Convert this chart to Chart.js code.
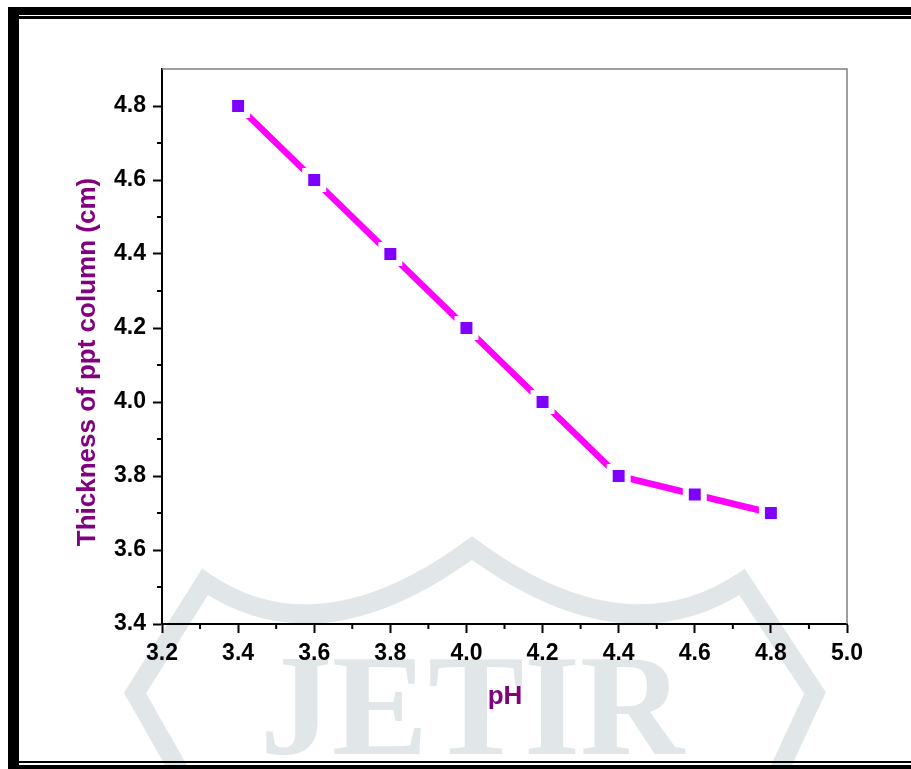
<!DOCTYPE html>
<html>
<head>
<meta charset="utf-8">
<script src="https://cdn.jsdelivr.net/npm/chart.js@4/dist/chart.umd.min.js"></script>
<style>
  html, body { margin: 0; padding: 0; background: #ffffff; }
  #wrap { width: 911px; height: 769px; }
</style>
</head>
<body>
<div id="wrap"><canvas id="phChart" width="911" height="769"></canvas></div>
<script>
// datos
const phValues = [3.4, 3.6, 3.8, 4.0, 4.2, 4.4, 4.6, 4.8];
const thickness = [4.8, 4.6, 4.4, 4.2, 4.0, 3.8, 3.75, 3.7];
const xTicks = [3.2, 3.4, 3.6, 3.8, 4.0, 4.2, 4.4, 4.6, 4.8, 5.0];
const yTicks = [3.4, 3.6, 3.8, 4.0, 4.2, 4.4, 4.6, 4.8];
const xMinor = [3.3, 3.5, 3.7, 3.9, 4.1, 4.3, 4.5, 4.7, 4.9];
const yMinor = [3.5, 3.7, 3.9, 4.1, 4.3, 4.5, 4.7];
const xTitle = "pH";
const yTitle = "Thickness of ppt column (cm)";

const purple = "#800080";
const tickFont = { family: "Liberation Sans, Arial, sans-serif", size: 23, weight: "bold" };

// marca de agua JETIR detras del grafico
const watermark = {
    id: "watermark",
    beforeDraw(chart) {
        const ctx = chart.ctx;
        ctx.save();
        ctx.fillStyle = "#ffffff";
        ctx.fillRect(0, 0, chart.width, chart.height);
        ctx.strokeStyle = "#e1e7e9";
        ctx.lineWidth = 19;
        ctx.lineJoin = "miter";
        ctx.beginPath();
        ctx.moveTo(190, 790);
        ctx.lineTo(135, 693);
        ctx.lineTo(205, 582);
        ctx.quadraticCurveTo(320, 660, 472, 548);
        ctx.quadraticCurveTo(624, 660, 742, 582);
        ctx.lineTo(815, 693);
        ctx.lineTo(770, 790);
        ctx.stroke();
        ctx.fillStyle = "#e1e7e9";
        ctx.font = "bold 144px 'Liberation Serif', 'Times New Roman', serif";
        ctx.textAlign = "center";
        ctx.textBaseline = "alphabetic";
        ctx.fillText("JETIR", 472, 754);
        ctx.restore();
    }
};

// marco del grafico, ticks menores y titulos
const decorations = {
    id: "decorations",
    beforeDatasetsDraw(chart) {
        const { ctx, chartArea } = chart;
        ctx.save();
        ctx.strokeStyle = "#808080";
        ctx.lineWidth = 1.5;
        ctx.beginPath();
        ctx.moveTo(chartArea.left, chartArea.top);
        ctx.lineTo(chartArea.right, chartArea.top);
        ctx.lineTo(chartArea.right, chartArea.bottom);
        ctx.stroke();
        ctx.restore();
    },
    afterDraw(chart) {
        const { ctx, chartArea } = chart;
        const xs = chart.scales.x;
        const ys = chart.scales.y;
        ctx.save();
        ctx.strokeStyle = "#000000";
        ctx.lineWidth = 2;
        ctx.beginPath();
        xMinor.forEach(v => {
            const px = xs.getPixelForValue(v);
            ctx.moveTo(px, chartArea.bottom);
            ctx.lineTo(px, chartArea.bottom + 5);
        });
        yMinor.forEach(v => {
            const py = ys.getPixelForValue(v);
            ctx.moveTo(chartArea.left, py);
            ctx.lineTo(chartArea.left - 5, py);
        });
        ctx.stroke();

        ctx.fillStyle = purple;
        ctx.font = "bold 26px 'Liberation Sans', Arial, sans-serif";
        ctx.textAlign = "center";
        ctx.textBaseline = "middle";
        ctx.fillText(xTitle, 505, 697);
        ctx.translate(88, 362);
        ctx.rotate(-Math.PI / 2);
        ctx.fillText(yTitle, 0, 0);
        ctx.restore();

        // borde negro de la pagina
        ctx.save();
        ctx.fillStyle = "#000000";
        ctx.fillRect(8, 7, 903, 8);
        ctx.fillRect(18, 16, 893, 3);
        ctx.fillRect(8, 7, 11, 762);
        ctx.fillRect(18, 761, 893, 2);
        ctx.fillRect(8, 765, 903, 4);
        ctx.restore();
    }
};

document.addEventListener("DOMContentLoaded", () => {
    const ctx = document.getElementById("phChart").getContext("2d");
    new Chart(ctx, {
        type: "line",
        data: {
            datasets: [{
                label: yTitle,
                data: phValues.map((x, i) => ({ x: x, y: thickness[i] })),
                borderColor: "#ff00ff",
                borderWidth: 6.5,
                backgroundColor: "#7f00ff",
                pointStyle: "rect",
                pointRadius: 12.7,
                pointBorderWidth: 6,
                pointBorderColor: "#ffffff",
                pointBackgroundColor: "#7f00ff",
                tension: 0
            }]
        },
        options: {
            responsive: false,
            animation: false,
            layout: { padding: { left: 20, top: 69, right: 64, bottom: 45 } },
            plugins: { legend: { display: false }, tooltip: { enabled: false } },
            scales: {
                x: {
                    type: "linear",
                    min: 3.2,
                    max: 5.0,
                    afterBuildTicks: scale => { scale.ticks = xTicks.map(v => ({ value: v })); },
                    afterFit: scale => { scale.height = 100; },
                    grid: { drawOnChartArea: false, drawTicks: true, tickLength: 9, tickWidth: 2, tickColor: "#000000" },
                    border: { display: true, color: "#000000", width: 2 },
                    ticks: {
                        color: "#000000",
                        font: tickFont,
                        padding: 7,
                        maxRotation: 0,
                        callback: v => v.toFixed(1)
                    }
                },
                y: {
                    type: "linear",
                    min: 3.4,
                    max: 4.9,
                    afterBuildTicks: scale => { scale.ticks = yTicks.map(v => ({ value: v })); },
                    afterFit: scale => { scale.width = 142; },
                    grid: { drawOnChartArea: false, drawTicks: true, tickLength: 9, tickWidth: 2, tickColor: "#000000" },
                    border: { display: true, color: "#000000", width: 2 },
                    ticks: {
                        color: "#000000",
                        font: tickFont,
                        padding: 7,
                        callback: v => v.toFixed(1)
                    }
                }
            }
        },
        plugins: [watermark, decorations]
    });
});
</script>
</body>
</html>
